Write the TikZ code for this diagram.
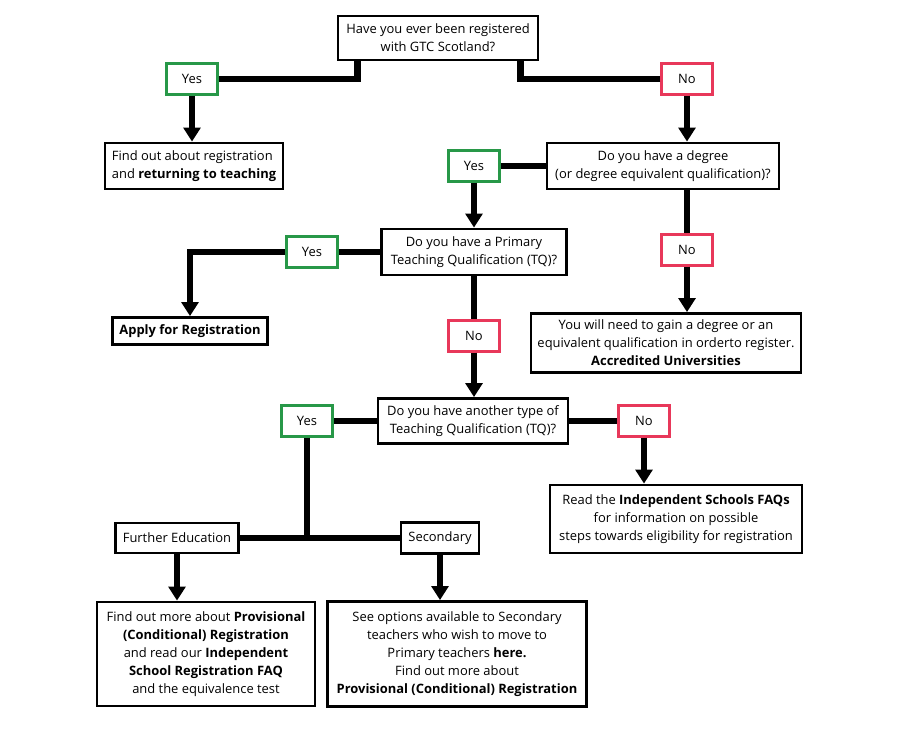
\documentclass[tikz,border=0pt]{standalone}
\usepackage{fontspec}
\setmainfont{Open Sans}
\usetikzlibrary{arrows.meta}
\definecolor{yesgreen}{RGB}{40,152,72}
\definecolor{nored}{RGB}{232,56,90}
\begin{document}
\begin{tikzpicture}[x=0.025cm, y=-0.025cm,
  every node/.style={font=\fontsize{9.2}{12.8}\selectfont},
  qbox/.style={draw, line width=2pt, fill=white, align=center, inner sep=2pt},
  yesbox/.style={draw=yesgreen, line width=1.6pt, fill=white, minimum width=1.275cm, minimum height=0.775cm},
  nobox/.style={draw=nored, line width=1.6pt, fill=white, minimum width=1.275cm, minimum height=0.775cm},
  link/.style={line width=4.5pt},
  arrowlink/.style={line width=4.5pt, -{Triangle[width=12pt,length=10pt]}}]
\useasboundingbox[fill=white] (0,0) rectangle (900,740);
\node[qbox, minimum width=5cm, minimum height=1.1cm] (gtc) at (438,38) {Have you ever been registered\\ with GTC Scotland?};
\node[yesbox] (yesgtc) at (192,79) {Yes};
\node[nobox] (nogtc) at (687,79) {No};
\node[qbox, align=left, minimum width=4.45cm, minimum height=1.15cm] (returning) at (194,166) {Find out about registration\\ and \textbf{returning to teaching}};
\node[qbox, minimum width=5.8cm, minimum height=1.15cm] (degree) at (663,166) {Do you have a degree\\ (or degree equivalent qualification)?};
\node[yesbox] (yesdegree) at (474,166) {Yes};
\node[nobox] (nodegree) at (687,250) {No};
\node[qbox, minimum width=4.625cm, minimum height=1.15cm] (primary) at (474,252) {Do you have a Primary\\ Teaching Qualification (TQ)?};
\node[yesbox] (yesprimary) at (312,252) {Yes};
\node[qbox, minimum width=3.875cm, minimum height=0.675cm] (apply) at (190,331) {\textbf{Apply for Registration}};
\node[nobox] (noprimary) at (474,336) {No};
\node[qbox, minimum width=6.75cm, minimum height=1.475cm] (gain) at (666,343) {You will need to gain a degree or an\\ equivalent qualification in orderto register.\\ \textbf{Accredited Universities}};
\node[qbox, minimum width=4.75cm, minimum height=1.125cm] (other) at (473,421) {Do you have another type of\\ Teaching Qualification (TQ)?};
\node[yesbox] (yesother) at (307,421) {Yes};
\node[nobox] (noother) at (644,421) {No};
\node[qbox, minimum width=6.3cm, minimum height=1.7cm] (faqs) at (676,519) {Read the \textbf{Independent Schools FAQs}\\ for information on possible\\ steps towards eligibility for registration};
\node[qbox, minimum width=3.075cm, minimum height=0.75cm] (further) at (177,538) {Further Education};
\node[qbox, minimum width=1.95cm, minimum height=0.775cm] (secondary) at (440,538) {Secondary};
\node[qbox, minimum width=5.45cm, minimum height=2.6cm] (provisional) at (206,654) {Find out more about \textbf{Provisional}\\ \textbf{(Conditional) Registration}\\ and read our \textbf{Independent}\\ \textbf{School Registration FAQ}\\ and the equivalence test};
\node[qbox, minimum width=6.475cm, minimum height=2.625cm] (options) at (457,654) {See options available to Secondary\\ teachers who wish to move to\\ Primary teachers \textbf{here.}\\ Find out more about\\ \textbf{Provisional (Conditional) Registration}};
% connectors
\draw[link] (yesgtc.east) -| ([xshift=0.525cm]gtc.south west);
\draw[link] (nogtc.west) -| ([xshift=-0.475cm]gtc.south east);
\draw[arrowlink] (yesgtc.south) -- (yesgtc.south |- returning.north);
\draw[arrowlink] (nogtc.south) -- (nogtc.south |- degree.north);
\draw[link] (degree.west) -- (yesdegree.east);
\draw[arrowlink] (yesdegree.south) -- (primary.north);
\draw[link] (nodegree.north |- degree.south) -- (nodegree.north);
\draw[arrowlink] (nodegree.south) -- (nodegree.south |- gain.north);
\draw[link] (primary.west) -- (yesprimary.east);
\draw[arrowlink] (yesprimary.west) -| (apply.north);
\draw[link] (primary.south) -- (noprimary.north);
\draw[arrowlink] (noprimary.south) -- (noprimary.south |- other.north);
\draw[link] (other.west) -- (yesother.east);
\draw[link] (other.east) -- (noother.west);
\draw[arrowlink] (noother.south) -- (noother.south |- faqs.north);
\draw[link] (yesother.south) -- (yesother.south |- further.east);
\draw[link] (further.east) -- (secondary.west);
\draw[arrowlink] (further.south) -- (further.south |- provisional.north);
\draw[arrowlink] (secondary.south) -- (secondary.south |- options.north);
\end{tikzpicture}
\end{document}
